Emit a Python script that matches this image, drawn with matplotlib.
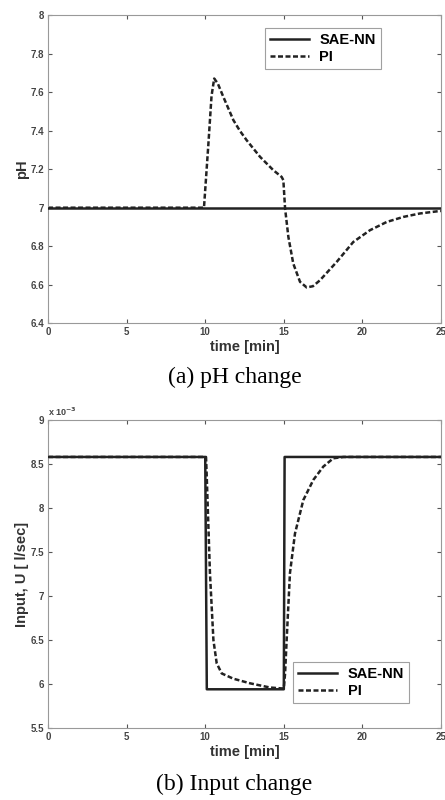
import matplotlib.pyplot as plt
from matplotlib.ticker import FormatStrFormatter

# (a) pH change
t_ph_sae = [0, 25]
ph_sae = [7.0, 7.0]
t_ph_pi = [0, 9.92, 10.2, 10.4, 10.57, 10.8, 11.15, 11.5, 11.79, 12.2, 12.64, 13.49, 14.33,
           14.86, 14.97, 15.08, 15.29, 15.6, 16.03, 16.45, 16.85, 17.3, 18.36, 19.42, 20.48,
           21.55, 22.6, 23.66, 24.94, 25]
ph_pi = [7.0, 7.0, 7.33, 7.58, 7.671, 7.645, 7.576, 7.51, 7.455, 7.4, 7.35, 7.264, 7.195,
         7.16, 7.143, 6.996, 6.848, 6.71, 6.615, 6.586, 6.592, 6.623, 6.718, 6.822, 6.883,
         6.926, 6.952, 6.97, 6.983, 6.983]

# (b) Input change, values in 1e-3 l/sec
t_u_sae = [0, 10.0, 10.1, 15.0, 15.05, 25]
u_sae = [8.58, 8.58, 5.94, 5.94, 8.58, 8.58]
t_u_pi = [0, 10.05, 10.09, 10.3, 10.52, 10.73, 11.05, 11.79, 12.85, 14.12, 14.86, 15.0,
          15.08, 15.18, 15.39, 15.71, 16.24, 16.88, 17.51, 18.15, 18.8, 25]
u_pi = [8.58, 8.58, 8.39, 7.26, 6.5, 6.235, 6.12, 6.06, 6.008, 5.96, 5.95, 5.95,
        6.12, 6.5, 7.26, 7.71, 8.09, 8.32, 8.47, 8.565, 8.58, 8.58]

plt.rcParams['font.family'] = 'Liberation Sans'
plt.rcParams['font.weight'] = 'bold'

fig = plt.figure(figsize=(4.45, 8), dpi=100)
ax1 = fig.add_axes([0.108, 0.596, 0.883, 0.385])
ax2 = fig.add_axes([0.108, 0.09, 0.883, 0.385])

for ax in (ax1, ax2):
    ax.tick_params(direction='in', top=True, right=True, labelsize=7, length=3,
                   colors='#555555', labelcolor='#444444', pad=3)
    for sp in ax.spines.values():
        sp.set_color('#999999')
        sp.set_linewidth(0.8)
    ax.set_xlim(0, 25)
    ax.set_xticks([0, 5, 10, 15, 20, 25])
    ax.set_xlabel('time [min]', fontsize=10.5, fontweight='bold', color='#333333', labelpad=2)

# pH plot - PI drawn first so SAE-NN sits on top
ax1.plot(t_ph_pi, ph_pi, color='#222222', lw=1.8, dashes=(2, 1), label='PI', zorder=2)
ax1.plot(t_ph_sae, ph_sae, color='#222222', lw=1.8, label='SAE-NN', zorder=3)
ax1.set_ylim(6.4, 8)
ax1.set_yticks([6.4, 6.6, 6.8, 7, 7.2, 7.4, 7.6, 7.8, 8])
ax1.yaxis.set_major_formatter(FormatStrFormatter('%g'))
ax1.set_ylabel('pH', fontsize=10.5, fontweight='bold', color='#333333', labelpad=1)
h, l = ax1.get_legend_handles_labels()
leg1 = ax1.legend(h[::-1], l[::-1], loc='upper right', bbox_to_anchor=(0.847, 0.958),
                  borderaxespad=0, fontsize=10.5, fancybox=False, edgecolor='#888888',
                  handlelength=2.7, borderpad=0.35, labelspacing=0.2, handletextpad=0.7)
leg1.get_frame().set_linewidth(0.8)

# input plot
ax2.plot(t_u_pi, u_pi, color='#222222', lw=1.8, dashes=(2, 1), label='PI', zorder=2)
ax2.plot(t_u_sae, u_sae, color='#222222', lw=1.8, label='SAE-NN', zorder=3)
ax2.set_ylim(5.5, 9)
ax2.set_yticks([5.5, 6, 6.5, 7, 7.5, 8, 8.5, 9])
ax2.yaxis.set_major_formatter(FormatStrFormatter('%g'))
ax2.set_ylabel('Input, U [ l/sec]', fontsize=10.5, fontweight='bold', color='#333333', labelpad=1)
ax2.text(0, 1.005, 'x 10$^{-3}$', transform=ax2.transAxes, fontsize=6.5, color='#444444',
         va='bottom', ha='left')
h, l = ax2.get_legend_handles_labels()
leg2 = ax2.legend(h[::-1], l[::-1], loc='lower right', bbox_to_anchor=(0.919, 0.081),
                  borderaxespad=0, fontsize=10.5, fancybox=False, edgecolor='#888888',
                  handlelength=2.7, borderpad=0.35, labelspacing=0.2, handletextpad=0.7)
leg2.get_frame().set_linewidth(0.8)

fig.text(0.527, 1 - 377 / 800, '(a) pH change', ha='center', va='center',
         fontsize=17, family='Liberation Serif', fontweight='normal')
fig.text(0.527, 1 - 784 / 800, '(b) Input change', ha='center', va='center',
         fontsize=17, family='Liberation Serif', fontweight='normal')

fig.savefig('out.png', dpi=100)
